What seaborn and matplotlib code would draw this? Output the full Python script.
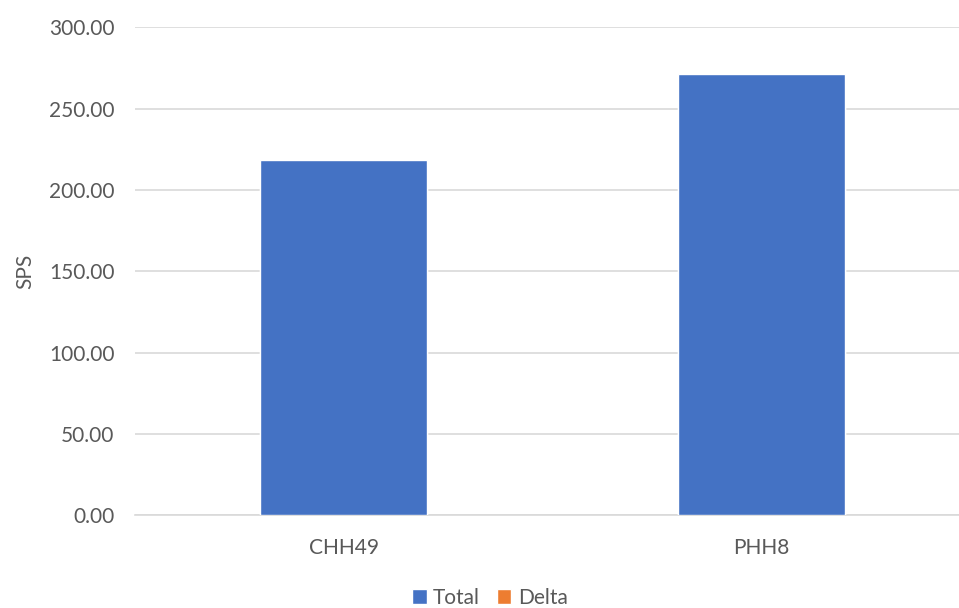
import matplotlib
matplotlib.use("Agg")
import matplotlib.pyplot as plt
from matplotlib.patches import Patch
import seaborn as sns
import pandas as pd

# Data
categories = ["CHH49", "PHH8"]
total = [218.7, 271.3]
delta = [0.0, 0.0]
y_ticks = [0, 50, 100, 150, 200, 250, 300]

BLUE = "#4472C4"
ORANGE = "#ED7D31"
TEXT = "#595959"
GRID = "#D9D9D9"

sns.set_theme(style="white")
plt.rcParams["font.family"] = ["Lato", "DejaVu Sans"]

df = pd.DataFrame({
    "category": categories,
    "Total": total,
    "Stack": [t + d for t, d in zip(total, delta)],
})

fig = plt.figure(figsize=(9.59, 6.08), dpi=100)
ax = fig.add_axes([0.1410, 0.1525, 0.8707, 0.8026])

# stacked bars: full stack (Delta on top) first, then Total over it
sns.barplot(data=df, x="category", y="Stack", color=ORANGE, width=0.4,
            saturation=1, ax=ax, zorder=3)
sns.barplot(data=df, x="category", y="Total", color=BLUE, width=0.4,
            saturation=1, ax=ax, zorder=4)

ax.set_xlim(-0.5, 1.5)
ax.set_ylim(0, 300)
ax.set_yticks(y_ticks)
ax.set_yticklabels([f"{v:.2f}" for v in y_ticks])
ax.yaxis.grid(True, color=GRID, linewidth=1.2, zorder=0)
ax.set_axisbelow(True)
for s in ["top", "right", "left"]:
    ax.spines[s].set_visible(False)
ax.spines["bottom"].set_color(GRID)
ax.spines["bottom"].set_linewidth(1.2)
ax.tick_params(axis="both", length=0, labelsize=15, colors=TEXT)
ax.tick_params(axis="y", pad=15)
ax.tick_params(axis="x", pad=16)
ax.set_xlabel("")
ax.set_ylabel("SPS", fontsize=15, color=TEXT, labelpad=10)

handles = [Patch(facecolor=BLUE, label="Total"), Patch(facecolor=ORANGE, label="Delta")]
fig.legend(handles=handles, loc="center", bbox_to_anchor=(490 / 959, 1 - 598 / 608),
           ncol=2, frameon=False, fontsize=15, labelcolor=TEXT,
           handlelength=0.7, handleheight=0.7, handletextpad=0.3, columnspacing=0.8)

fig.savefig("out.png", dpi=100)
